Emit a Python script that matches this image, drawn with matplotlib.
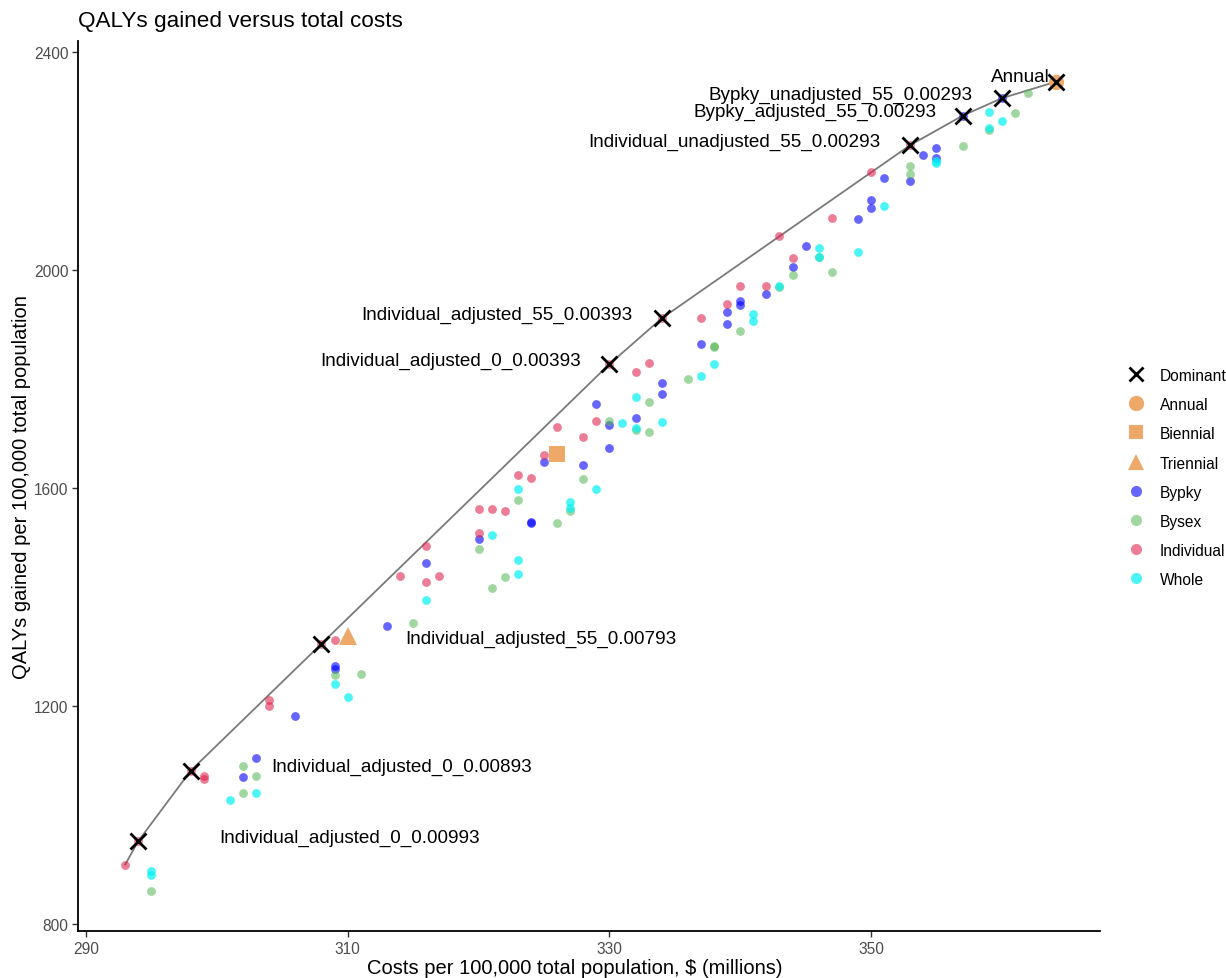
import matplotlib
matplotlib.use("Agg")
import matplotlib.pyplot as plt
from matplotlib.lines import Line2D

plt.rcParams['font.family'] = ['Liberation Sans', 'DejaVu Sans']

# ---------------- data ----------------
bypky_x = [309, 309, 306, 303, 302, 313, 316, 320, 324, 324, 325, 328, 329, 330, 330, 332,
           334, 334, 337, 339, 339, 340, 340, 342, 344, 345, 349, 350, 350, 351, 353, 354,
           355, 355, 357, 360]
bypky_y = [1273, 1268, 1182, 1104, 1070, 1347, 1463, 1506, 1538, 1535, 1648, 1642, 1754, 1716, 1673, 1728,
           1793, 1772, 1864, 1923, 1901, 1943, 1936, 1955, 2005, 2044, 2093, 2129, 2114, 2169, 2163, 2211,
           2224, 2205, 2283, 2315]

bysex_x = [295, 302, 303, 302, 309, 311, 315, 320, 321, 322, 323, 326, 327, 328, 330, 332, 333, 333,
           336, 338, 338, 340, 343, 344, 346, 347, 353, 353, 357, 359, 361, 362]
bysex_y = [861, 1090, 1072, 1040, 1256, 1258, 1353, 1488, 1416, 1437, 1577, 1536, 1558, 1617, 1722, 1706, 1757, 1702,
           1799, 1861, 1859, 1887, 1969, 1991, 2024, 1996, 2190, 2176, 2227, 2256, 2287, 2324]

indiv_x = [293, 294, 298, 299, 299, 304, 304, 308, 309, 314, 316, 316, 317, 320, 320, 321, 322, 323, 324,
           325, 326, 328, 329, 330, 332, 333, 334, 337, 339, 340, 342, 343, 344, 347, 350, 353]
indiv_y = [909, 952, 1081, 1072, 1066, 1210, 1199, 1314, 1321, 1438, 1494, 1427, 1438, 1561, 1518, 1561, 1557, 1624, 1619,
           1660, 1712, 1694, 1723, 1827, 1812, 1829, 1911, 1912, 1938, 1971, 1971, 2062, 2021, 2095, 2180, 2229]

whole_x = [295, 295, 301, 303, 309, 310, 316, 321, 323, 323, 323, 327, 327, 329, 331, 332, 332, 334,
           337, 338, 341, 341, 343, 346, 346, 349, 351, 355, 355, 359, 359, 360]
whole_y = [897, 889, 1028, 1041, 1240, 1216, 1395, 1514, 1598, 1467, 1442, 1575, 1563, 1598, 1719, 1766, 1710, 1721,
           1805, 1827, 1919, 1906, 1970, 2040, 2024, 2032, 2117, 2200, 2196, 2289, 2260, 2274]

strategy_names = ['Annual', 'Biennial', 'Triennial']
strategy_x = [364.1, 326.0, 310.0]
strategy_y = [2345, 1662, 1329]

dominant_names = ['Individual_adjusted_0_0.00993', 'Individual_adjusted_0_0.00893',
                  'Individual_adjusted_55_0.00793', 'Individual_adjusted_0_0.00393',
                  'Individual_adjusted_55_0.00393', 'Individual_unadjusted_55_0.00293',
                  'Bypky_adjusted_55_0.00293', 'Bypky_unadjusted_55_0.00293', 'Annual']
dominant_x = [294, 298, 308, 330, 334, 353, 357, 360, 364.1]
dominant_y = [952, 1081, 1314, 1827, 1911, 2229, 2283, 2315, 2345]

frontier_x = [293, 294, 298, 308, 330, 334, 353, 357, 360, 364.1]
frontier_y = [909, 952, 1081, 1314, 1827, 1911, 2229, 2283, 2315, 2345]

x_ticks = [290, 310, 330, 350]
y_ticks = [800, 1200, 1600, 2000, 2400]

# ---------------- styling ----------------
W, H = 1226, 979
fig = plt.figure(figsize=(W / 100, H / 100), dpi=100)
ax = fig.add_axes([78 / W, 1 - 932 / H, (1100 - 78) / W, (932 - 42) / H])

col_bypky = '#0000FF'
col_bysex = '#52B652'
col_indiv = '#DF2650'
col_whole = '#00F2F2'
col_orange = '#EEA868'

s_pt = 40
ax.plot(frontier_x, frontier_y, color='#7a7a7a', lw=1.3, zorder=1)
ax.scatter(bypky_x, bypky_y, s=s_pt, color=col_bypky, alpha=0.6, lw=0, zorder=2)
ax.scatter(bysex_x, bysex_y, s=s_pt, color=col_bysex, alpha=0.55, lw=0, zorder=2)
ax.scatter(indiv_x, indiv_y, s=s_pt, color=col_indiv, alpha=0.6, lw=0, zorder=2)
ax.scatter(whole_x, whole_y, s=s_pt, color=col_whole, alpha=0.7, lw=0, zorder=2)

markers = {'Annual': 'o', 'Biennial': 's', 'Triennial': '^'}
msizes = {'Annual': 11, 'Biennial': 12, 'Triennial': 13}
for n, x, y in zip(strategy_names, strategy_x, strategy_y):
    ax.plot([x], [y], marker=markers[n], ms=msizes[n], color=col_orange, ls='', mew=0, zorder=3)

ax.plot(dominant_x, dominant_y, marker='x', ls='', color='black', ms=11.5, mew=2.0, zorder=4)

label_offsets_px = {
    'Individual_adjusted_0_0.00993': (211, 6),
    'Individual_adjusted_0_0.00893': (211, 6),
    'Individual_adjusted_55_0.00793': (219, 7),
    'Individual_adjusted_0_0.00393': (-159, 6),
    'Individual_adjusted_55_0.00393': (-165, 6),
    'Individual_unadjusted_55_0.00293': (-176, 6),
    'Bypky_adjusted_55_0.00293': (-148, 6),
    'Bypky_unadjusted_55_0.00293': (-161, 6),
    'Annual': (-35, 7),
}
for n, x, y in zip(dominant_names, dominant_x, dominant_y):
    dx, dy = label_offsets_px[n]
    ax.annotate(n, xy=(x, y), xytext=(dx * 0.72, dy * 0.72), textcoords='offset points',
                ha='center', va='center_baseline', fontsize=13.6, color='black', zorder=5)

ax.set_xlim(289.39, 367.5)
ax.set_ylim(787, 2420)
ax.set_xticks(x_ticks)
ax.set_yticks(y_ticks)
for s in ['top', 'right']:
    ax.spines[s].set_visible(False)
for s in ['left', 'bottom']:
    ax.spines[s].set_linewidth(1.3)
    ax.spines[s].set_color('black')
ax.tick_params(axis='both', colors='#333333', labelcolor='#4D4D4D', labelsize=11.2,
               length=4, width=1.0, pad=3)
ax.tick_params(axis='x', pad=3)

ax.set_xlabel('Costs per 100,000 total population, $ (millions)', fontsize=14.5)
ax.xaxis.set_label_coords(0.486, -0.0305)
ax.set_ylabel('QALYs gained per 100,000 total population', fontsize=14.5)
ax.yaxis.set_label_coords(-0.046, 0.5)
fig.text(78 / W, 1 - 21 / H, 'QALYs gained versus total costs', fontsize=16.2,
         ha='left', va='center')

# ---------------- legend (manual) ----------------
legend_items = [
    ('Dominant', dict(marker='x', color='black', ms=10, mew=2.0)),
    ('Annual', dict(marker='o', color=col_orange, ms=11, mew=0)),
    ('Biennial', dict(marker='s', color=col_orange, ms=10, mew=0)),
    ('Triennial', dict(marker='^', color=col_orange, ms=12, mew=0)),
    ('Bypky', dict(marker='o', color=col_bypky, alpha=0.6, ms=8, mew=0)),
    ('Bysex', dict(marker='o', color=col_bysex, alpha=0.55, ms=8, mew=0)),
    ('Individual', dict(marker='o', color=col_indiv, alpha=0.6, ms=8, mew=0)),
    ('Whole', dict(marker='o', color=col_whole, alpha=0.7, ms=8, mew=0)),
]
for i, (lab, kw) in enumerate(legend_items):
    ypx = 375 + i * 29.2
    fy = 1 - ypx / H
    fig.add_artist(Line2D([1136 / W], [fy], ls='', transform=fig.transFigure, **kw))
    fig.text(1160 / W, fy, lab, fontsize=11.2, ha='left', va='center_baseline', color='black')

fig.savefig('out.png', dpi=100)
